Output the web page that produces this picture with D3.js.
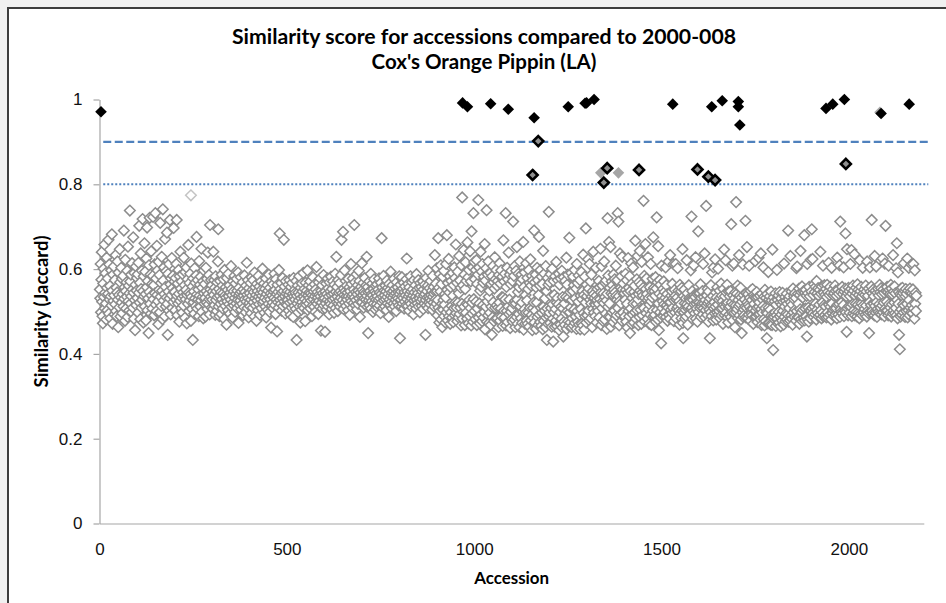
<!DOCTYPE html>
<html><head><meta charset="utf-8">
<script src="https://cdn.jsdelivr.net/npm/d3@7"></script>
<style>html,body{margin:0;padding:0;background:#f0f0f0;}svg{display:block}</style>
</head><body>
<svg id="chart" width="946" height="603"></svg>
<script>
// Similarity (Jaccard) x 1000 for accessions 1..N (accession = index + 1)
const similarity = [
552,531,612,498,575,640,523,489,472,566,601,534,658,507,544,590,519,481,627,556,
503,578,542,669,495,611,528,560,484,536,597,514,682,549,471,587,525,606,538,493,
574,517,633,501,556,489,545,618,528,463,592,539,510,647,569,488,533,603,521,577,
496,541,584,512,691,530,557,478,622,548,507,569,535,596,487,653,524,561,502,543,
738,571,519,587,536,498,614,552,509,675,544,483,591,527,456,563,606,515,549,579,
532,588,497,615,544,702,521,568,482,637,553,509,596,527,718,548,474,583,536,661,
512,594,541,479,625,557,698,503,572,531,449,609,546,721,518,587,495,642,538,565,
507,584,723,529,562,491,611,543,732,516,578,501,655,539,597,524,470,617,551,586,
498,709,535,567,513,629,549,482,741,573,526,604,541,489,671,558,512,595,533,686,
518,445,589,547,502,612,531,716,564,493,578,539,626,508,555,584,523,697,546,571,
546,503,579,528,612,716,537,491,566,519,598,542,476,583,525,641,554,508,571,532,
497,588,545,514,627,536,562,485,593,529,551,604,472,539,576,518,657,544,501,567,
526,589,541,478,613,534,506,559,433,578,522,547,495,602,531,568,513,585,676,540,
507,574,528,552,489,619,537,563,511,582,526,648,499,556,534,571,484,597,543,519,
565,532,488,603,548,521,577,506,639,541,517,586,529,493,704,552,535,574,509,562,
528,547,506,641,539,574,515,556,492,583,527,548,501,569,534,618,694,512,553,489,
537,572,518,546,494,587,529,561,507,543,576,521,482,598,538,513,557,533,469,579,
524,551,503,589,536,517,562,495,545,528,607,511,553,539,486,571,522,548,514,584,
532,499,566,541,519,577,508,549,527,592,473,538,556,515,543,526,581,504,547,535,
518,569,491,552,537,510,585,529,546,498,561,523,615,540,508,574,531,486,555,520,
543,512,567,528,496,581,537,551,509,574,522,546,488,592,531,557,514,539,478,565,
526,548,503,584,535,517,559,492,543,529,571,508,552,537,601,519,545,524,566,497,
532,553,511,578,486,541,527,562,504,549,518,587,535,499,556,529,543,462,571,514,
538,521,564,507,547,532,589,515,551,494,576,528,541,453,563,522,546,509,598,536,
684,527,553,518,567,502,544,531,579,513,548,669,524,559,536,495,572,517,542,528,
515,548,527,563,502,539,574,521,546,492,558,533,509,567,524,542,487,579,536,513,
551,528,544,506,572,433,537,519,561,498,545,526,583,512,539,474,556,531,504,566,
522,547,513,591,535,508,553,529,477,568,541,516,549,524,597,503,538,562,519,545,
532,571,507,543,526,557,489,538,514,581,529,547,511,564,536,499,552,523,605,541,
518,546,533,494,569,525,540,511,578,536,455,549,521,562,507,543,530,586,514,538,
531,452,547,519,566,504,541,527,578,512,555,536,493,569,524,548,517,582,539,506,
553,528,571,514,542,497,563,531,589,508,546,629,522,558,535,501,574,519,544,526,
567,511,548,532,586,669,518,543,527,688,506,554,539,597,521,548,572,513,536,561,
528,545,503,577,536,519,557,492,548,531,612,524,565,537,509,578,541,520,552,704,
533,569,515,546,527,588,505,541,562,518,549,596,531,572,487,545,523,558,536,614,
522,551,538,567,509,546,531,579,516,543,528,562,629,537,511,558,449,545,526,571,
514,548,533,589,507,541,524,566,538,499,553,519,576,532,547,505,561,528,543,517,
564,536,509,552,527,578,514,545,531,496,568,541,673,522,557,535,508,584,526,549,
538,512,561,529,547,503,573,534,519,556,542,487,565,528,551,516,594,537,523,545,
507,562,533,548,519,577,539,512,554,528,543,501,569,535,522,557,531,546,514,583,
541,437,563,528,547,512,581,536,519,554,532,568,507,546,523,559,538,514,576,625,
529,548,513,565,536,502,557,541,524,583,518,547,531,569,509,552,537,493,574,526,
545,516,562,534,507,588,528,551,519,543,574,512,556,531,498,567,539,524,558,513,
547,529,571,506,552,537,518,563,541,445,527,579,514,548,533,561,508,596,536,522,
555,531,517,572,539,526,549,504,584,535,521,558,542,511,633,547,529,566,518,602,
548,491,527,673,509,556,474,588,502,547,609,481,565,518,463,582,504,527,596,489,
516,541,474,533,612,498,680,551,479,567,506,624,489,545,583,471,557,498,572,513,
486,591,537,475,562,508,604,491,579,522,658,496,509,568,477,594,521,486,543,631,
494,573,509,556,467,609,518,769,483,562,499,645,511,587,468,553,616,497,572,519,
483,663,516,581,472,598,527,489,642,508,571,467,689,521,495,604,476,732,529,617,
501,576,482,598,523,621,468,565,507,587,763,486,604,519,472,549,641,493,558,594,
477,612,515,568,486,582,499,659,458,573,511,602,739,476,524,587,491,618,535,473,
549,497,591,468,565,511,445,583,486,607,522,569,477,554,628,509,576,483,598,515,
561,484,572,509,463,586,521,614,478,566,507,597,488,534,582,466,533,668,502,571,
486,589,529,732,467,558,501,603,475,576,512,639,494,528,587,461,565,499,596,482,
508,572,476,712,519,584,481,607,525,463,519,596,487,652,528,471,546,589,494,557,
463,618,512,569,484,587,521,473,576,499,664,457,558,505,592,471,539,497,614,478,
526,579,471,553,497,598,464,567,509,623,479,561,492,584,456,573,508,485,521,691,
474,569,502,587,459,556,521,603,487,574,468,539,676,493,561,475,598,509,466,582,
497,565,458,643,511,478,589,502,531,463,607,486,548,433,507,579,471,563,735,488,
497,569,473,588,508,536,464,601,517,483,429,572,498,539,464,583,506,478,617,521,
466,532,574,489,517,589,456,563,498,469,578,511,483,596,462,534,507,441,581,476,
519,468,572,496,534,627,459,563,501,587,477,532,466,674,498,546,474,509,591,463,
527,484,548,582,467,562,505,598,473,531,488,554,459,612,501,567,476,523,585,469,
492,574,458,537,506,593,471,529,548,467,634,496,539,457,582,489,521,696,474,563,
536,491,547,623,502,554,479,612,528,571,484,519,587,535,463,548,506,641,541,497,
532,518,489,516,603,537,474,527,553,509,501,518,572,486,557,529,648,545,468,607,
508,561,524,477,543,520,618,481,534,567,495,573,526,459,542,720,511,585,488,664,
519,556,487,652,464,543,571,498,562,539,475,587,551,502,576,545,483,608,537,491,
527,574,732,508,712,536,467,524,637,493,556,519,583,478,629,552,497,566,541,486,
543,488,527,589,551,476,574,518,462,545,626,501,556,489,583,449,548,507,613,471,
566,532,493,604,519,474,546,561,498,667,537,483,518,576,503,631,529,468,541,569,
487,643,549,504,563,471,617,544,491,537,556,761,508,584,477,532,659,553,496,578,
541,483,527,628,505,532,471,516,557,492,612,524,468,548,533,577,502,675,489,556,
548,492,537,581,476,554,722,503,569,481,654,519,456,542,574,498,563,486,425,608,
536,508,524,553,489,571,517,546,498,532,604,487,562,515,541,478,527,509,618,492,
521,483,633,522,504,537,548,496,565,509,531,612,477,526,551,498,537,612,484,528,
507,533,602,511,549,502,524,469,563,496,517,548,484,556,501,647,473,437,536,498,
552,519,483,504,531,488,621,517,543,469,507,512,562,531,494,528,525,597,506,724,
509,548,482,527,501,609,517,539,496,534,628,483,518,507,541,476,523,689,499,542,
521,543,508,564,487,532,511,519,548,493,612,507,534,519,637,486,527,503,749,515,
538,492,553,519,476,547,524,504,437,531,498,562,516,489,592,513,536,479,604,507,
522,496,623,512,545,481,533,498,557,516,601,493,528,501,549,484,532,507,566,491,
537,508,524,471,553,515,646,492,536,511,621,497,545,518,563,486,521,474,547,509,
493,536,512,548,487,706,521,498,608,479,538,516,613,497,531,463,545,514,758,499,
542,506,561,484,527,513,633,491,538,517,556,481,533,449,523,498,611,487,539,505,
491,528,512,714,486,543,509,652,522,484,541,516,493,608,511,532,478,549,505,496,
527,491,553,506,471,539,518,534,487,619,502,533,488,546,509,475,534,493,627,511,
522,494,537,481,637,506,468,542,497,528,513,604,482,535,467,551,508,477,532,498,
437,541,496,472,593,509,528,473,536,504,469,547,491,526,468,646,485,409,533,491,
487,524,498,543,466,516,491,598,483,527,471,538,499,474,546,488,522,465,531,493,
516,478,544,501,523,469,613,487,512,534,477,525,496,542,481,518,493,691,476,529,
508,536,479,631,522,491,547,483,516,469,554,498,529,536,487,543,505,532,478,602,
501,606,487,542,518,486,554,471,539,505,643,482,546,498,559,477,533,504,548,486,
680,479,544,507,551,488,537,441,612,481,543,509,476,558,502,536,484,622,501,547,
694,508,624,496,539,487,564,511,546,493,558,519,481,572,504,543,496,555,488,537,
516,551,492,641,503,542,484,559,521,497,608,488,544,515,562,491,539,512,553,486,
534,563,498,546,487,615,516,539,493,558,511,544,481,603,519,496,552,504,538,489,
543,507,561,492,549,508,537,484,627,516,551,493,542,518,609,487,712,505,546,499,
522,558,496,541,515,604,489,547,501,554,684,498,536,452,647,508,543,491,556,512,
548,497,536,612,511,553,645,489,542,517,561,496,549,503,635,491,537,518,556,499,
543,488,564,516,551,497,539,484,621,512,548,495,558,519,536,491,603,514,543,498,
552,506,539,492,561,514,547,488,618,501,537,496,554,449,522,604,498,547,515,559,
716,501,543,495,552,518,536,491,631,513,549,497,606,522,487,544,506,554,499,538,
517,563,496,546,509,555,493,541,514,625,498,552,521,544,489,613,507,702,501,548,
523,558,502,546,491,608,517,551,496,542,509,563,488,554,517,541,495,633,503,547,
521,559,496,543,508,602,491,661,527,484,592,518,546,445,499,411,541,488,554,505,
538,492,556,517,543,498,614,514,549,487,536,553,501,542,518,625,486,549,503,603,
527,491,554,509,546,498,611,515,543,496,552,612,507,539,483,597,518,544,501,537
];

// Accessions that match closely (>= 0.9): black diamonds
const topMatchX = [4,969,982,1044,1091,1160,1251,1296,1300,1320,1530,1634,1662,1705,1705,1709,1939,1957,1988,2086,2161];
const topMatchY = [0.971,0.992,0.983,0.990,0.977,0.957,0.983,0.991,0.992,1.0,0.989,0.983,0.997,0.995,0.983,0.940,0.979,0.989,1.0,0.967,0.989];
// Near matches (0.8 - 0.9): grey diamonds with black outline
const nearMatchX = [1156,1171,1346,1355,1440,1596,1625,1643,1992];
const nearMatchY = [0.822,0.902,0.804,0.838,0.834,0.835,0.818,0.810,0.848];
// Light grey filled diamonds
const lightX = [1338,1385,2083];
const lightY = [0.827,0.827,0.970];
// Faint open diamond
const faintX = [244];
const faintY = [0.774];
// Threshold lines
const thresholdLevels = [0.9, 0.8];
const thresholdSpan = [10, 2212];

const xTicks = [0, 500, 1000, 1500, 2000];
const yTicks = [0, 0.2, 0.4, 0.6, 0.8, 1];

const svg = d3.select("#chart");
const x = d3.scaleLinear().domain([0, 2200]).range([99.5, 923.8]);
const y = d3.scaleLinear().domain([0, 1]).range([523.5, 99.5]);

// chart area box
svg.append("rect").attr("x", 8).attr("y", 8).attr("width", 960).attr("height", 640)
  .attr("fill", "#ffffff").attr("stroke", "#3c3c3c").attr("stroke-width", 2);

const diamond = r => `M0,${-r}L${r},0L0,${r}L${-r},0Z`;

// axes
const yAxis = svg.append("g").attr("transform", `translate(${x(0)},0)`)
  .call(d3.axisLeft(y).tickValues(yTicks).tickSizeInner(6).tickSizeOuter(0).tickPadding(11).tickFormat(d => String(d)));
const xAxis = svg.append("g").attr("transform", `translate(0,${y(0)})`)
  .call(d3.axisBottom(x).tickValues(xTicks).tickSizeInner(0).tickSizeOuter(0).tickPadding(19).tickFormat(d => String(d)));
[yAxis, xAxis].forEach(g => {
  g.select(".domain").attr("stroke", "#a6a6a6").attr("stroke-width", 1.2);
  g.selectAll(".tick line").attr("stroke", "#a6a6a6").attr("stroke-width", 1.2);
  g.selectAll(".tick text").attr("fill", "#111").style("font-family", "'Liberation Sans', Arial, sans-serif").style("font-size", "17px");
});

// grey base series
const pts = similarity.map((v, i) => ({a: i + 1, s: v / 1000}));
svg.append("g").selectAll("path").data(pts).join("path")
  .attr("d", diamond(5.3))
  .attr("transform", d => `translate(${x(d.a)},${y(d.s)})`)
  .attr("fill", "#ffffff").attr("stroke", "#8c8c8c").attr("stroke-width", 1.5);

svg.append("g").selectAll("path").data(faintX).join("path")
  .attr("d", diamond(5.3))
  .attr("transform", (d, i) => `translate(${x(d)},${y(faintY[i])})`)
  .attr("fill", "#ffffff").attr("stroke", "#c4c4c4").attr("stroke-width", 1.5);

// threshold lines
const lineGen = d3.line().x(d => x(d[0])).y(d => y(d[1]));
svg.append("path").attr("d", lineGen(thresholdSpan.map(a => [a, thresholdLevels[0]])))
  .attr("fill", "none").attr("stroke", "#4f81bd").attr("stroke-width", 2.2).attr("stroke-dasharray", "8,3.5");
svg.append("path").attr("d", lineGen(thresholdSpan.map(a => [a, thresholdLevels[1]])))
  .attr("fill", "none").attr("stroke", "#4f81bd").attr("stroke-width", 2).attr("stroke-dasharray", "2,2");

// highlighted series
svg.append("g").selectAll("path").data(lightX).join("path")
  .attr("d", diamond(5.8))
  .attr("transform", (d, i) => `translate(${x(d)},${y(lightY[i])})`)
  .attr("fill", "#a6a6a6");
svg.append("g").selectAll("path").data(nearMatchX).join("path")
  .attr("d", diamond(5))
  .attr("transform", (d, i) => `translate(${x(d)},${y(nearMatchY[i])})`)
  .attr("fill", "#8f8f8f").attr("stroke", "#000").attr("stroke-width", 2.6);
svg.append("g").selectAll("path").data(topMatchX).join("path")
  .attr("d", diamond(5.8))
  .attr("transform", (d, i) => `translate(${x(d)},${y(topMatchY[i])})`)
  .attr("fill", "#000");

// titles
const titleFont = "Lato, 'Open Sans', sans-serif";
function fit(t, w) {
  const base = parseFloat(t.style("font-size"));
  const len = t.node().getComputedTextLength();
  t.style("font-size", (base * w / len).toFixed(2) + "px");
}
const t1 = svg.append("text").attr("x", 484).attr("y", 36).attr("text-anchor", "middle").attr("dominant-baseline", "central")
  .style("font-family", titleFont).style("font-weight", "bold").style("font-size", "18px").attr("fill", "#000")
  .text("Similarity score for accessions compared to 2000-008");
fit(t1, 504);
const t2 = svg.append("text").attr("x", 484).attr("y", 61).attr("text-anchor", "middle").attr("dominant-baseline", "central")
  .style("font-family", titleFont).style("font-weight", "bold").style("font-size", "18px").attr("fill", "#000")
  .text("Cox's Orange Pippin (LA)");
fit(t2, 225);
const xt = svg.append("text").attr("x", (x.range()[0] + x.range()[1]) / 2).attr("y", 577).attr("text-anchor", "middle").attr("dominant-baseline", "central")
  .style("font-family", titleFont).style("font-weight", "bold").style("font-size", "15px").attr("fill", "#000")
  .text("Accession");
fit(xt, 75);
const yt = svg.append("text").attr("transform", `translate(41,${(y.range()[0] + y.range()[1]) / 2}) rotate(-90)`)
  .attr("text-anchor", "middle").attr("dominant-baseline", "central")
  .style("font-family", titleFont).style("font-weight", "bold").style("font-size", "15px").attr("fill", "#000")
  .text("Similarity (Jaccard)");
fit(yt, 152);
</script>
</body></html>
